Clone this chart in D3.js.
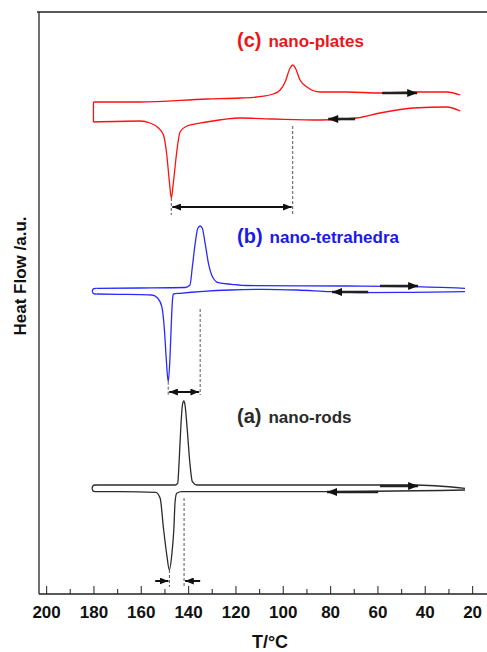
<!DOCTYPE html>
<meta charset="utf-8">
<head>
<title>DSC curves</title>
<script src="https://cdn.jsdelivr.net/npm/d3@7"></script>
<style>
  body { margin: 0; background: #fff; }
  text { font-family: Arial, "Liberation Sans", sans-serif; }
</style>
</head>
<body>
<div id="chart"></div>
<script>
var w = 487, h = 652;

// tick values of the temperature axis
var majorTicks = [200, 180, 160, 140, 120, 100, 80, 60, 40, 20];
var minorTicks = [190, 170, 150, 130, 110, 90, 70, 50, 30];

// [T (degC), heat flow (a.u.)]  cooling runs 180 -> 25, heating runs 25 -> 180
var platesCool = [[180,49.2],[160.3,49.2],[132.1,49.5],[118.0,49.6],[111.0,49.7],[104.0,50.0],[101.1,50.4],[99.0,51.2],[96.9,52.6],[95.8,52.9],[94.7,52.6],[92.7,51.4],[89.8,50.7],[84.2,50.2],[72.9,50.2],[58.9,50.1],[44.8,50.2],[30.7,50.2],[25.0,49.9]];
var platesHeat = [[25.0,48.3],[30.7,48.7],[44.8,48.6],[58.9,48.1],[68.7,47.6],[84.2,47.4],[104.0,47.5],[118.0,47.6],[132.1,47.2],[140.5,46.8],[143.4,46.2],[144.8,44.2],[146.2,41.2],[147.1,39.6],[147.9,41.2],[149.0,43.9],[150.4,45.9],[152.5,46.6],[156.1,47.1],[160.3,47.3],[180,47.2]];

var tetraCool = [[178.7,30.57],[160.3,30.6],[141.3,30.65],[139.2,30.9],[138.2,32.73],[137.0,35.07],[135.9,36.57],[134.9,36.8],[134.0,36.57],[132.8,35.07],[131.4,33.07],[129.7,31.73],[127.2,31.13],[121.5,30.97],[115.2,30.85],[72.9,30.8],[44.9,30.73],[23.0,30.57]];
var tetraHeat = [[23.0,30.23],[44.8,30.17],[65.9,30.13],[80.0,30.23],[94.1,30.4],[108.2,30.47],[122.3,30.4],[143.4,30.07],[146.2,30.0],[146.6,29.4],[147.2,26.4],[147.7,23.4],[148.4,21.23],[149.2,23.4],[150.0,26.4],[151.1,28.73],[152.8,29.57],[155.3,29.9],[169.5,29.97],[178.7,30.0]];

var rodsCool = [[178.9,10.9],[160.3,10.9],[145.5,10.9],[144.4,11.07],[143.8,13.23],[143.1,16.57],[142.4,18.9],[141.8,19.3],[141.3,18.9],[140.4,16.57],[139.3,13.23],[138.2,11.23],[136.3,10.9],[115.9,10.9],[44.8,10.9],[23.0,10.57]];
var rodsHeat = [[23.0,10.4],[87.2,10.23],[142.7,10.23],[144.8,10.07],[145.5,9.23],[146.0,6.57],[146.9,3.9],[147.9,2.4],[149.0,3.9],[150.4,6.57],[151.8,9.57],[153.6,10.17],[168.7,10.23],[178.9,10.23]];

// start temperature of each run (the turning point on the left)
var turnT = [180, 180.5, 180.6];

// melting / crystallisation peak temperatures
var meltT = [147.1, 148.4, 147.9];
var crystT = [95.8, 134.9, 141.7];

// run direction arrows: [T from, T to, heat flow]
var dirArrows = [[58.0,43.2,50.1],[69.4,80.8,47.5],[58.9,42.8,30.8],[63.9,79.2,30.2],[58.9,42.8,10.8],[59.7,81.3,10.2]];

var svg = d3.select("#chart").append("svg")
  .attr("width", w).attr("height", h);

var padL = 39, padR = 487, padT = 12, padB = 594;

var x = d3.scaleLinear().domain([203, 13.7]).range([padL, padR]);
var y = d3.scaleLinear().domain([0, 58.2]).range([padB, padT]);

var defs = svg.append("defs");
defs.append("marker")
  .attr("id", "head")
  .attr("markerUnits", "userSpaceOnUse")
  .attr("viewBox", "0 0 10 8")
  .attr("refX", 10).attr("refY", 4)
  .attr("markerWidth", 11).attr("markerHeight", 8)
  .attr("orient", "auto-start-reverse")
  .append("path").attr("d", "M0,0L10,4L0,8z").attr("fill", "#111");
defs.append("marker")
  .attr("id", "headS")
  .attr("markerUnits", "userSpaceOnUse")
  .attr("viewBox", "0 0 10 8")
  .attr("refX", 10).attr("refY", 4)
  .attr("markerWidth", 9).attr("markerHeight", 7)
  .attr("orient", "auto-start-reverse")
  .append("path").attr("d", "M0,0L10,4L0,8z").attr("fill", "#111");

// frame
svg.append("line").attr("x1", padL - 2).attr("x2", padR).attr("y1", padT).attr("y2", padT)
  .attr("stroke", "#222").attr("stroke-width", 1.3);
svg.append("line").attr("x1", padL).attr("x2", padL).attr("y1", padT).attr("y2", padB)
  .attr("stroke", "#222").attr("stroke-width", 1.3);

// x axis
var gx = svg.append("g").attr("transform", "translate(0," + padB + ")");
gx.call(d3.axisBottom(x).tickValues(minorTicks).tickSize(-5).tickFormat(""))
  .call(g => g.select(".domain").remove());
gx.append("g").call(d3.axisBottom(x).tickValues(majorTicks).tickSize(-8).tickPadding(12))
  .call(g => g.select(".domain").remove())
  .call(g => g.selectAll("text").attr("font-size", 17).attr("font-weight", "bold")
    .attr("font-family", "Arial, 'Liberation Sans', sans-serif").attr("fill", "#111"));
gx.selectAll(".tick line").attr("stroke", "#444").attr("stroke-width", 1.2);
gx.append("line").attr("x1", padL).attr("x2", padR).attr("y1", 0).attr("y2", 0)
  .attr("stroke", "#222").attr("stroke-width", 1.3);

svg.append("text")
  .attr("x", 270).attr("y", 648)
  .attr("text-anchor", "middle")
  .attr("font-size", 18).attr("font-weight", "bold").attr("fill", "#111")
  .text("T/°C");

svg.append("text")
  .attr("transform", "translate(26,276) rotate(-90)")
  .attr("text-anchor", "middle")
  .attr("font-size", 17).attr("font-weight", "bold").attr("fill", "#111")
  .text("Heat Flow /a.u.");

// each branch drawn left to right on screen so monotone interpolation holds
var branch = d3.line()
  .x(d => x(d[0])).y(d => y(d[1]))
  .curve(d3.curveMonotoneX);
var turn = d3.line()
  .x(d => x(d[0])).y(d => y(d[1]))
  .curve(d3.curveBasis);

var samples = [
  { heat: platesHeat, cool: platesCool, color: "#ff1010" },
  { heat: tetraHeat, cool: tetraCool, color: "#2a2aff" },
  { heat: rodsHeat, cool: rodsCool, color: "#2b2b2b" }
];

samples.forEach(function (s, i) {
  var g = svg.append("g")
    .attr("fill", "none")
    .attr("stroke", s.color)
    .attr("stroke-width", 1.3)
    .attr("stroke-linejoin", "round");
  [s.heat, s.cool].forEach(function (b) {
    var pts = b.slice().sort((a, c) => c[0] - a[0]);
    g.append("path").attr("d", branch(pts));
  });
  var a = s.heat[s.heat.length - 1], c = s.cool[0];
  var tp = [a, [turnT[i], a[1]], [turnT[i], c[1]], c];
  g.append("path").attr("d", (turnT[i] > a[0] ? turn : d3.line().x(d => x(d[0])).y(d => y(d[1])))(tp));
});

// dashed guides down from the peaks
var dashBottom = [37.9, 19.9, 0.7];
var crystTop = [46.8, 28.5, 9.6];
var meltMin = [39.6, 21.23, 2.4];
var barY = [38.7, 20.2, 1.3];

for (var i = 0; i < 3; i++) {
  svg.append("line")
    .attr("x1", x(crystT[i])).attr("x2", x(crystT[i]))
    .attr("y1", y(crystTop[i])).attr("y2", y(dashBottom[i]))
    .attr("stroke", "#555").attr("stroke-width", 1).attr("stroke-dasharray", "3,2");
  svg.append("line")
    .attr("x1", x(meltT[i])).attr("x2", x(meltT[i]))
    .attr("y1", y(meltMin[i])).attr("y2", y(dashBottom[i]))
    .attr("stroke", "#555").attr("stroke-width", 1).attr("stroke-dasharray", "3,2");
}

// supercooling bars
[0, 1].forEach(function (i) {
  svg.append("line")
    .attr("x1", x(meltT[i]) + 1).attr("x2", x(crystT[i]) - 1)
    .attr("y1", y(barY[i])).attr("y2", y(barY[i]))
    .attr("stroke", "#111").attr("stroke-width", 2)
    .attr("marker-start", "url(#headS)").attr("marker-end", "url(#headS)");
});
svg.append("line")
  .attr("x1", x(153.9)).attr("x2", x(meltT[2]) - 1)
  .attr("y1", y(barY[2])).attr("y2", y(barY[2]))
  .attr("stroke", "#111").attr("stroke-width", 2).attr("marker-end", "url(#headS)");
svg.append("line")
  .attr("x1", x(134.9)).attr("x2", x(crystT[2]) + 1)
  .attr("y1", y(barY[2])).attr("y2", y(barY[2]))
  .attr("stroke", "#111").attr("stroke-width", 2).attr("marker-end", "url(#headS)");

// heating / cooling direction arrows
svg.selectAll(".dir")
  .data(dirArrows)
  .enter().append("line")
  .attr("class", "dir")
  .attr("x1", d => x(d[0])).attr("x2", d => x(d[1]))
  .attr("y1", d => y(d[2])).attr("y2", d => y(d[2]))
  .attr("stroke", "#222").attr("stroke-width", 2.6)
  .attr("marker-end", "url(#head)");

// sample labels
var labels = [
  { tag: "(c)", name: "nano-plates", color: "#f01418", base: 47 },
  { tag: "(b)", name: "nano-tetrahedra", color: "#1a1ae8", base: 243 },
  { tag: "(a)", name: "nano-rods", color: "#2a2a2a", base: 423 }
];
labels.forEach(function (l) {
  var t = svg.append("text")
    .attr("x", 237).attr("y", l.base)
    .attr("font-weight", "bold").attr("fill", l.color);
  t.append("tspan").attr("font-size", 20).text(l.tag);
  t.append("tspan").attr("font-size", 17).attr("dx", 7).text(l.name);
});
</script>
</body>
